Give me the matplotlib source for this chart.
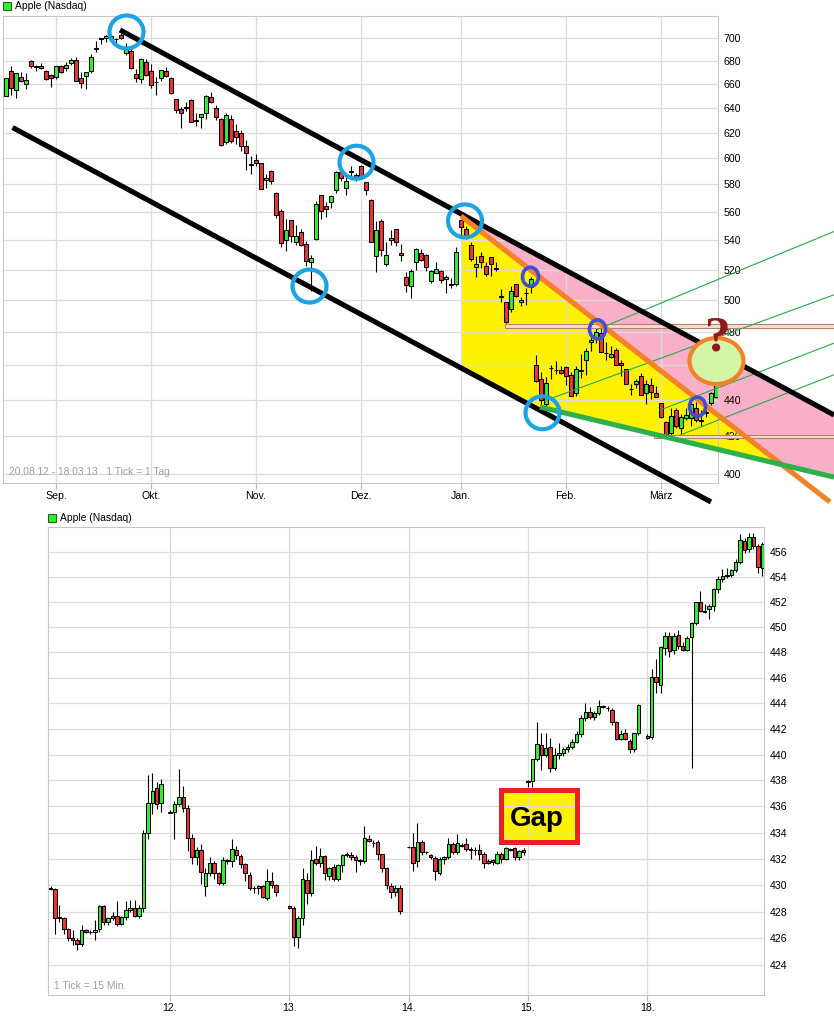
import numpy as np
import pandas as pd
import matplotlib
matplotlib.use('Agg')
import matplotlib.pyplot as plt
from matplotlib.patches import Ellipse, Polygon, Rectangle
from matplotlib.transforms import ScaledTranslation
from matplotlib.ticker import FixedLocator, FixedFormatter, NullLocator

plt.rcParams['font.family'] = ['Liberation Sans', 'DejaVu Sans']

# ---------------- daily candles (open, high, low, close) ----------------
aug12 = [(650.01, 665.15, 649.90, 665.15), (670.82, 674.88, 650.33, 656.06), (654.42, 669.00, 648.11, 668.87),
         (666.11, 669.90, 661.15, 662.63), (659.51, 669.48, 655.55, 663.22), (679.99, 680.87, 673.54, 675.68),
         (674.98, 676.10, 670.67, 674.80), (675.25, 677.67, 672.60, 673.47), (670.64, 671.55, 662.85, 663.87),
         (667.25, 668.60, 657.25, 665.24)]
sep12 = [(665.76, 675.14, 664.50, 674.97), (675.57, 676.35, 669.60, 670.23), (673.17, 678.29, 670.80, 676.27),
         (678.05, 682.48, 675.77, 680.44), (680.45, 683.29, 662.10, 662.74), (665.11, 670.10, 656.50, 660.59),
         (666.85, 669.90, 656.00, 669.79), (670.84, 685.50, 669.05, 682.98), (689.96, 696.98, 687.89, 691.28),
         (699.35, 699.80, 694.61, 699.78), (699.88, 702.33, 696.42, 701.91), (700.26, 703.99, 699.57, 702.10),
         (699.16, 700.06, 693.62, 698.70), (702.41, 705.07, 699.36, 700.09), (686.86, 695.12, 685.00, 690.79),
         (688.26, 692.78, 673.00, 673.54), (668.74, 672.69, 661.20, 665.18), (664.29, 682.17, 660.35, 681.32),
         (678.75, 681.11, 666.75, 667.10)]
oct12 = [(671.16, 676.75, 656.50, 659.39), (661.81, 666.00, 650.65, 661.31), (664.86, 671.86, 662.63, 671.45),
         (671.25, 674.25, 665.55, 666.80), (665.20, 666.00, 651.28, 652.59), (646.88, 647.56, 636.11, 638.17),
         (638.65, 640.49, 623.55, 635.85), (639.74, 644.98, 637.00, 640.91), (646.50, 647.20, 628.10, 628.10),
         (629.56, 635.38, 625.30, 629.71), (632.35, 635.13, 623.85, 634.76), (635.37, 650.30, 631.00, 649.79),
         (648.87, 652.79, 644.00, 644.61), (639.59, 642.06, 630.00, 632.64), (631.05, 631.77, 609.62, 609.84),
         (612.42, 635.38, 610.76, 634.03), (631.00, 633.90, 611.70, 613.36), (621.44, 626.55, 610.64, 616.83),
         (620.00, 622.00, 605.55, 609.54), (609.43, 614.00, 591.00, 604.00), (594.88, 601.96, 587.70, 595.32)]
nov12 = [(598.22, 603.00, 594.17, 596.54), (595.89, 596.25, 576.50, 576.80), (583.52, 587.77, 577.60, 584.62),
         (590.23, 590.74, 580.09, 582.85), (573.84, 574.54, 555.75, 558.00), (560.63, 562.23, 535.29, 537.75),
         (540.42, 555.00, 532.49, 547.06), (554.15, 554.50, 538.65, 542.83), (538.91, 550.48, 536.36, 542.90),
         (545.50, 547.45, 536.18, 536.88), (537.53, 539.50, 522.62, 525.62), (525.20, 530.00, 505.75, 527.68),
         (540.71, 567.50, 539.88, 565.73), (571.91, 571.95, 554.58, 560.91), (564.25, 567.37, 556.60, 561.70),
         (567.17, 572.00, 562.60, 571.50), (575.90, 590.00, 573.71, 589.53), (589.55, 591.39, 582.40, 584.78),
         (577.27, 585.80, 572.26, 582.94), (590.22, 594.25, 585.25, 589.36), (586.79, 588.40, 582.68, 585.28)]
dec12 = [(593.65, 594.59, 585.50, 586.19), (581.80, 581.80, 572.13, 575.85), (568.91, 569.25, 538.77, 538.79),
         (528.94, 553.33, 518.63, 547.24), (553.40, 555.00, 529.40, 533.25), (523.51, 538.51, 522.18, 529.82),
         (539.77, 547.00, 536.36, 541.39), (547.77, 547.80, 536.27, 539.00), (531.15, 537.64, 525.80, 529.69),
         (514.75, 518.61, 505.40, 509.79), (508.93, 520.60, 501.23, 518.83), (525.00, 534.90, 520.00, 533.90),
         (531.47, 533.70, 525.50, 526.31), (530.00, 530.20, 518.88, 521.73), (512.47, 519.67, 511.25, 519.33),
         (518.00, 524.75, 518.04, 520.17), (519.00, 519.46, 511.12, 513.00), (513.54, 516.25, 504.66, 515.06),
         (510.29, 514.48, 508.12, 509.59), (510.53, 535.40, 509.00, 532.17)]
jan13 = [(553.82, 555.00, 541.63, 549.03), (547.88, 549.67, 541.00, 542.10), (536.97, 538.63, 525.83, 527.00),
         (522.00, 529.30, 515.20, 523.90), (529.21, 531.89, 521.25, 525.31), (522.50, 525.01, 515.99, 517.10),
         (528.55, 528.72, 515.52, 523.51), (521.00, 525.32, 519.02, 520.30), (502.68, 507.50, 498.51, 501.75),
         (498.52, 498.75, 485.63, 485.92), (494.64, 509.44, 492.50, 506.09), (510.31, 510.75, 502.03, 502.68),
         (498.52, 502.22, 496.40, 500.00), (504.56, 507.88, 496.63, 504.77), (508.81, 514.99, 504.77, 514.01),
         (460.00, 465.73, 450.25, 450.50), (451.69, 456.23, 435.00, 439.88), (437.83, 453.21, 435.86, 449.83),
         (458.50, 460.20, 452.12, 458.27), (457.00, 462.60, 454.50, 456.83), (456.98, 459.28, 455.00, 455.49)]
feb13 = [(459.11, 459.48, 448.35, 453.62), (453.91, 455.94, 442.00, 442.32), (444.05, 459.74, 442.22, 457.84),
         (456.47, 466.50, 452.58, 457.35), (463.25, 470.00, 454.12, 468.22), (474.00, 478.81, 468.25, 474.98),
         (476.50, 484.94, 473.25, 479.93), (479.51, 482.38, 467.74, 467.90), (467.21, 473.64, 463.22, 467.01),
         (464.52, 471.64, 464.02, 466.59), (468.85, 470.16, 459.92, 460.16), (461.10, 462.73, 453.85, 459.99),
         (457.69, 457.69, 448.80, 448.85), (446.00, 449.17, 442.82, 446.06), (449.25, 451.60, 446.60, 450.81),
         (453.85, 455.12, 442.57, 442.80), (443.82, 451.54, 437.66, 448.97), (448.43, 452.44, 440.65, 444.57),
         (444.05, 447.87, 441.40, 441.40)]
mar13 = [(438.00, 438.18, 429.98, 430.47), (427.80, 428.20, 419.00, 420.05), (421.48, 435.19, 420.75, 431.14),
         (434.51, 435.43, 424.43, 425.66), (424.50, 432.01, 421.06, 430.58), (429.80, 435.43, 428.61, 431.72),
         (429.75, 439.01, 425.14, 437.87), (435.60, 438.88, 427.57, 428.43), (428.45, 434.50, 425.36, 428.35),
         (433.00, 434.50, 430.40, 432.50), (437.93, 444.23, 437.25, 443.66), (441.45, 457.46, 441.20, 455.72)]

holidays = ['2012-09-03', '2012-10-29', '2012-10-30', '2012-11-22', '2012-12-25',
            '2013-01-01', '2013-01-21', '2013-02-18']
month_labels = ['Sep.', 'Okt.', 'Nov.', 'Dez.', 'Jan.', 'Feb.', 'März']
top_ticks = list(range(400, 701, 20))

# ---------------- 15 minute candles, 11.03. - 18.03.2013 ----------------
m11 = [(429.8, 429.9, 429.6, 429.7), (429.7, 429.8, 426.3, 427.5), (427.6, 428.5, 427.2, 427.5),
       (427.5, 427.6, 426.3, 426.7), (426.7, 426.8, 425.8, 426.0), (426.0, 426.6, 425.5, 425.9),
       (425.9, 426.0, 425.1, 425.6), (425.6, 427.0, 425.4, 426.6), (426.6, 426.7, 426.4, 426.5),
       (426.5, 426.6, 426.3, 426.5), (426.5, 427.4, 425.9, 426.6), (426.7, 428.5, 426.5, 428.4),
       (428.4, 428.5, 427.0, 427.2), (427.2, 427.6, 427.0, 427.5), (427.5, 428.0, 427.4, 427.7),
       (427.7, 428.8, 426.9, 427.1), (427.1, 427.7, 427.0, 427.6), (427.6, 428.8, 427.4, 428.1),
       (428.1, 428.9, 428.0, 428.3), (428.3, 428.9, 427.6, 427.7), (427.7, 428.5, 427.5, 428.3),
       (428.3, 434.2, 428.0, 434.0), (434.0, 438.4, 433.5, 436.3), (436.3, 438.6, 435.4, 437.2),
       (437.4, 437.9, 435.8, 436.2), (436.3, 438.1, 435.6, 437.7)]
m12 = [(435.5, 435.7, 435.5, 435.6), (435.6, 436.4, 433.5, 436.2), (436.2, 438.9, 436.0, 436.7),
       (436.7, 437.6, 435.6, 435.9), (435.9, 436.1, 432.6, 433.6), (433.6, 433.9, 431.6, 432.1),
       (432.1, 432.9, 431.5, 432.7), (432.7, 433.1, 430.1, 431.0), (429.9, 431.3, 429.2, 430.9),
       (430.9, 432.1, 430.7, 431.65), (431.65, 431.8, 430.5, 430.9), (430.9, 431.0, 430.0, 430.2),
       (430.2, 432.1, 430.0, 431.9), (431.9, 432.0, 431.6, 431.8), (431.8, 433.5, 431.4, 432.75),
       (432.7, 433.0, 432.0, 432.3), (432.2, 432.4, 431.3, 431.6), (431.6, 431.7, 430.3, 430.9),
       (430.8, 431.0, 429.6, 429.8), (429.8, 429.9, 429.4, 429.8), (429.8, 430.0, 429.3, 429.9),
       (429.9, 430.0, 429.0, 429.1), (429.0, 431.2, 428.9, 430.3), (430.3, 431.0, 429.8, 430.0),
       (430.0, 430.1, 429.2, 429.5)]
m13 = [(428.4, 428.5, 428.2, 428.3), (428.3, 428.4, 425.4, 426.1), (426.1, 427.7, 425.3, 427.5),
       (427.5, 431.3, 427.0, 430.5), (430.4, 430.9, 428.6, 429.4), (429.4, 432.7, 429.2, 431.9),
       (432.0, 433.0, 431.5, 431.7), (431.7, 432.8, 431.4, 432.2), (432.2, 432.3, 430.4, 430.9),
       (430.7, 431.4, 430.4, 431.3), (431.4, 431.6, 430.3, 430.5), (430.5, 431.6, 430.3, 431.5),
       (431.5, 432.4, 431.0, 432.3), (432.3, 432.5, 432.1, 432.4), (432.3, 432.5, 431.9, 432.15),
       (432.15, 432.3, 431.0, 431.9), (431.9, 432.0, 431.5, 431.8), (431.8, 434.5, 431.7, 433.6),
       (433.5, 433.8, 433.3, 433.35), (433.2, 433.4, 432.9, 433.2), (433.25, 433.4, 431.9, 432.35),
       (432.35, 432.4, 431.0, 431.3), (431.3, 431.4, 429.7, 430.0), (429.9, 430.2, 429.0, 429.5),
       (429.5, 430.0, 429.2, 429.75), (429.75, 430.0, 427.8, 428.05)]
m14 = [(432.9, 433.0, 432.8, 432.9), (432.9, 434.0, 431.1, 431.7), (431.85, 434.7, 431.4, 433.25),
       (433.3, 433.4, 432.3, 432.5), (432.5, 432.6, 432.4, 432.5), (432.3, 432.4, 432.0, 432.15),
       (432.05, 432.2, 430.4, 431.1), (430.95, 432.1, 430.8, 431.97), (431.97, 432.2, 431.6, 432.1),
       (432.1, 433.6, 432.0, 433.13), (433.13, 433.3, 432.4, 432.5), (432.5, 433.9, 432.4, 433.2),
       (433.0, 433.2, 432.9, 433.05), (433.1, 433.6, 432.6, 432.75), (432.75, 432.9, 432.0, 432.7),
       (432.65, 432.9, 432.3, 432.65), (432.65, 433.1, 431.9, 432.35), (432.35, 432.5, 431.3, 431.7),
       (431.8, 432.0, 431.6, 431.7), (431.9, 432.0, 431.5, 431.75), (431.7, 432.6, 431.6, 432.35),
       (432.35, 432.5, 431.7, 431.97), (431.97, 432.9, 431.9, 432.8), (432.75, 432.85, 432.6, 432.7),
       (432.8, 432.9, 431.9, 432.15), (432.15, 432.7, 431.9, 432.6), (432.65, 432.8, 432.3, 432.5)]
m15 = [(437.9, 438.0, 437.5, 437.95), (437.95, 439.7, 437.5, 439.64), (439.64, 442.5, 439.5, 440.82),
       (440.74, 441.7, 438.8, 439.96), (439.96, 441.7, 439.8, 440.48), (440.56, 441.3, 438.65, 438.97),
       (438.97, 440.5, 438.8, 440.0), (440.0, 440.9, 439.7, 440.09), (440.09, 440.6, 439.9, 440.4),
       (440.4, 440.8, 440.2, 440.6), (440.6, 441.2, 440.4, 441.0), (441.0, 441.8, 440.9, 441.57),
       (441.57, 443.1, 441.4, 442.83), (442.83, 444.0, 442.6, 443.35), (443.3, 443.7, 442.8, 442.96),
       (442.96, 443.4, 442.7, 443.2), (443.2, 444.26, 443.1, 443.8), (443.8, 443.9, 443.6, 443.7),
       (443.66, 443.8, 443.4, 443.66), (443.5, 443.6, 442.3, 442.51), (442.51, 442.6, 441.1, 441.2),
       (441.2, 441.9, 441.1, 441.57), (441.65, 442.0, 441.1, 441.2), (441.08, 441.2, 440.09, 440.4),
       (440.4, 441.7, 440.2, 441.65), (441.65, 443.95, 441.5, 443.87)]
m18 = [(441.45, 441.6, 441.2, 441.27), (441.4, 446.7, 441.2, 446.08), (446.08, 447.47, 444.84, 445.64),
       (445.4, 448.5, 444.8, 448.43), (448.35, 449.6, 447.8, 449.27), (449.27, 449.6, 447.6, 448.08),
       (448.21, 449.5, 447.9, 449.33), (449.39, 449.8, 448.3, 448.53), (448.53, 448.8, 448.1, 448.16),
       (448.16, 449.3, 448.1, 449.15), (449.23, 450.4, 439.0, 450.35), (450.35, 452.0, 450.2, 451.95),
       (451.95, 452.83, 451.2, 451.28), (451.28, 451.8, 451.1, 451.2), (451.41, 451.8, 450.67, 451.68),
       (451.68, 453.1, 451.3, 453.01), (453.01, 454.1, 452.7, 453.81), (453.81, 454.6, 453.6, 454.03),
       (454.03, 454.7, 453.9, 454.13), (454.13, 454.6, 454.0, 454.56), (454.56, 455.4, 454.4, 455.15),
       (455.15, 457.4, 455.0, 456.96), (456.88, 457.1, 455.9, 456.16), (456.21, 457.5, 456.0, 457.23),
       (457.23, 457.5, 456.2, 456.43), (456.43, 456.6, 454.3, 454.75), (454.67, 456.8, 454.1, 456.61)]
intraday_days = [m11, m12, m13, m14, m15, m18]
day_labels = ['12.', '13.', '14.', '15.', '18.']
slots_per_day = 27
bottom_ticks = list(range(424, 457, 2))

# ---------------- drawn analysis (trading day index, price) ----------------
upper_channel = [(22.8, 707.2), (165.6, 431.5)]
lower_channel = [(1.3, 624.0), (141.0, 385.9)]
orange_trend = [(91.0, 557.0), (164.8, 385.9)]
green_trend = [(106.8, 435.9), (165.6, 398.4)]
yellow_area = [(91.0, 557.0), (91.0, 458.3), (106.8, 435.9), (155.1, 404.9)]
pink_area = [(91.0, 558.6), (165.6, 431.5), (165.6, 398.4), (155.1, 404.9), (91.0, 557.0)]
fan_lines = [[(118.3, 481.6), (165.5, 545.9)], [(108.1, 439.8), (165.5, 503.3)],
             [(130.8, 434.2), (165.5, 473.0)], [(134.8, 420.5), (165.5, 454.2)]]
level_bands = [(99.8, 482.7, 484.6), (129.6, 418.7, 420.5)]
big_rings = [(24.1, 705.4), (70.1, 596.8), (91.8, 553.5), (60.7, 509.1), (107.3, 432.7)]
small_rings = [(104.9, 515.2), (118.3, 481.6), (138.3, 436.1)]
target_ring = (142.1, 462.4)
question_pos = (142.4, 476.0)
gap_box = (102.0, 119.2, 433.3, 437.3)
gap_text_pos = (110.0, 434.5)

GREEN = '#33ee33'
RED = '#ee3333'
GRID = '#dcdcdc'

W, H = 834, 1022
fig = plt.figure(figsize=(W / 100, H / 100), dpi=100)
ax1 = fig.add_axes([3 / W, 1 - 483 / H, 715 / W, 467 / H])
ax2 = fig.add_axes([48 / W, 1 - 995 / H, 716 / W, 468 / H])


def draw_candles(ax, x, ohlc, width):
    ohlc = np.array(ohlc, dtype=float)
    o, h, l, c = ohlc.T
    x = np.asarray(x, dtype=float)
    ax.vlines(x, l, h, color='black', lw=0.8, zorder=3)
    cols = np.where(c >= o, GREEN, RED)
    ax.bar(x, np.abs(c - o), width, bottom=np.minimum(o, c), color=cols,
           edgecolor='black', linewidth=0.75, zorder=4)


def style_axes(ax, yticks):
    ax.set_yscale('log')
    ax.yaxis.set_major_locator(FixedLocator(yticks))
    ax.yaxis.set_major_formatter(FixedFormatter([str(t) for t in yticks]))
    ax.yaxis.set_minor_locator(NullLocator())
    ax.yaxis.tick_right()
    ax.tick_params(axis='y', length=0, pad=4, labelsize=7.6)
    ax.tick_params(axis='x', length=4, color='#bbbbbb', pad=2, labelsize=7.6)
    ax.grid(True, color=GRID, lw=0.9)
    ax.set_axisbelow(True)
    for sp in ax.spines.values():
        sp.set_color('#c8c8c8')
        sp.set_linewidth(0.8)


def ring(ax, x, y, w, h, color, lw, fc='none', z=7):
    tr = fig.dpi_scale_trans + ScaledTranslation(x, y, ax.transData)
    e = Ellipse((0, 0), w / 100, h / 100, transform=tr, facecolor=fc,
                edgecolor=color, lw=lw, clip_on=False, zorder=z)
    ax.add_artist(e)


# ---------------- top: daily chart ----------------
daily = aug12 + sep12 + oct12 + nov12 + dec12 + jan13 + feb13 + mar13
dates = pd.bdate_range('2012-08-20', '2013-03-18')
dates = dates[~dates.isin(pd.to_datetime(holidays))]
idx = np.arange(len(dates))
month_pos = [i for i in idx[1:] if dates[i].month != dates[i - 1].month]

draw_candles(ax1, idx, daily, 0.72)
style_axes(ax1, top_ticks)
ax1.set_xlim(-0.6, 142.4)
ax1.set_ylim(395.4, 720.0)
ax1.set_xticks(month_pos)
ax1.set_xticklabels(month_labels)

ax1.add_patch(Polygon(yellow_area, closed=True, facecolor='#fff200', edgecolor='none',
                      zorder=0.3, clip_on=False))
ax1.add_patch(Polygon(pink_area, closed=True, facecolor='#f9b0c8', edgecolor='none',
                      zorder=0.3, clip_on=False))
for x0, p0, p1 in level_bands:
    ax1.add_patch(Rectangle((x0, p0), 166 - x0, p1 - p0, facecolor='#f0e0d8',
                            edgecolor='#b8806a', lw=0.8, zorder=4.5, clip_on=False))
for ln in fan_lines:
    xs, ps = zip(*ln)
    ax1.plot(xs, ps, color='#2aa84a', lw=0.8, zorder=4.6, clip_on=False)
for ln, col in [(upper_channel, 'black'), (lower_channel, 'black'),
                (orange_trend, '#f5822a'), (green_trend, '#2db04a')]:
    xs, ps = zip(*ln)
    ax1.plot(xs, ps, color=col, lw=3.7, zorder=5, clip_on=False, solid_capstyle='butt')

for x, p in big_rings:
    ring(ax1, x, p, 34, 33, '#1ba3e3', 3.0)
for x, p in small_rings:
    ring(ax1, x, p, 16, 19, '#3e4fd0', 2.6)
ring(ax1, target_ring[0], target_ring[1], 54, 46, '#f28226', 3.0, fc='#d2f5a8', z=6)
ax1.text(question_pos[0], question_pos[1], '?', color='#8c1c1c', fontsize=37,
         fontweight='bold', family='Liberation Serif', ha='center', va='center',
         zorder=8, clip_on=False)
ax1.text(0.008, 0.012, '20.08.12 - 18.03.13   1 Tick = 1 Tag', transform=ax1.transAxes,
         color='#a0a0a0', fontsize=7.4, ha='left', va='bottom')

# ---------------- bottom: 15 minute chart ----------------
xs, bars = [], []
for d, day in enumerate(intraday_days):
    for s, candle in enumerate(day):
        xs.append(d * slots_per_day + s)
        bars.append(candle)

draw_candles(ax2, xs, bars, 0.78)
style_axes(ax2, bottom_ticks)
ax2.set_xlim(-0.6, 161.4)
ax2.set_ylim(421.76, 458.0)
ax2.set_xticks([slots_per_day * (i + 1) for i in range(len(day_labels))])
ax2.set_xticklabels(day_labels)

gx0, gx1, gp0, gp1 = gap_box
ax2.add_patch(Rectangle((gx0, gp0), gx1 - gx0, gp1 - gp0, facecolor='#fff200',
                        edgecolor='none', zorder=0.3))
ax2.add_patch(Rectangle((gx0, gp0), gx1 - gx0, gp1 - gp0, facecolor='none',
                        edgecolor='#e62228', lw=3.6, zorder=6))
ax2.text(gap_text_pos[0], gap_text_pos[1], 'Gap', fontsize=20, fontweight='bold',
         ha='center', va='baseline', zorder=7)
ax2.text(0.008, 0.008, '1 Tick = 15 Min.', transform=ax2.transAxes,
         color='#a0a0a0', fontsize=7.4, ha='left', va='bottom')

# legends
for lx, ly in [(3, 2), (48, 514)]:
    fig.patches.append(Rectangle((lx / W, 1 - (ly + 8) / H), 8 / W, 8 / H,
                                 transform=fig.transFigure, facecolor=GREEN,
                                 edgecolor='#226622', lw=0.8))
    fig.text((lx + 12) / W, 1 - (ly + 4) / H, 'Apple (Nasdaq)', fontsize=7.4,
             ha='left', va='center')

fig.savefig('out.png', dpi=100)
